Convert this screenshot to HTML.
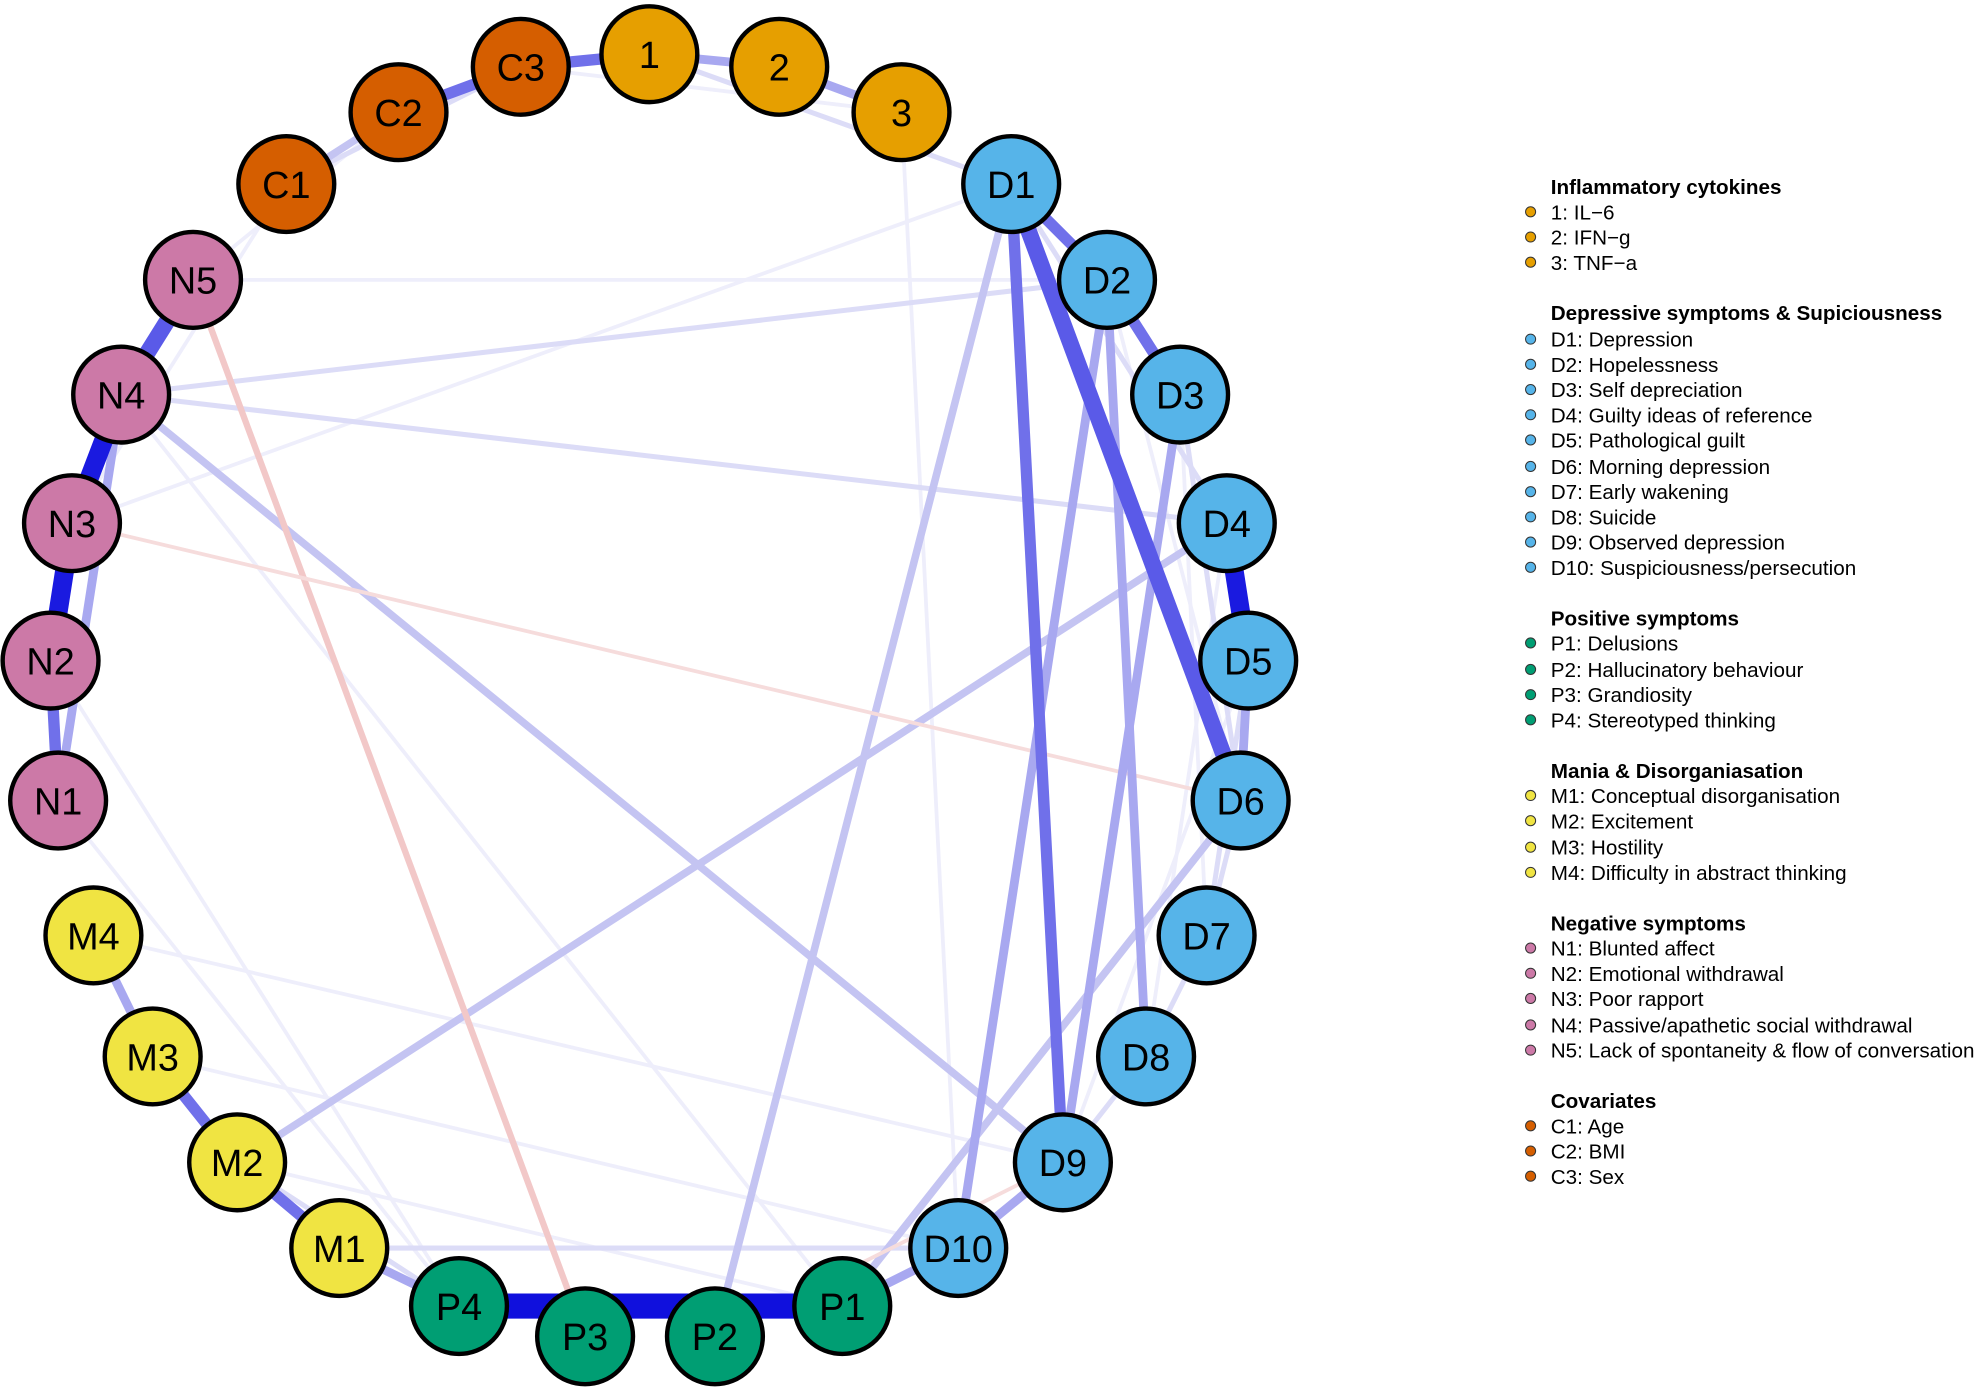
<!DOCTYPE html>
<html><head><meta charset="utf-8"><style>html,body{margin:0;padding:0;background:#fff}svg{display:block}</style></head><body>
<svg width="1977" height="1388" viewBox="0 0 1568 1101" xmlns="http://www.w3.org/2000/svg" font-family="Liberation Sans, sans-serif">
<g stroke-linecap="round" fill="none">
<g stroke="#eeeefb" stroke-width="3">
<line x1="413" y1="53" x2="715" y2="89"/><line x1="316" y1="89" x2="153" y2="222"/>
<line x1="227" y1="146" x2="57" y2="415"/><line x1="715" y1="89" x2="760" y2="990"/>
<line x1="96" y1="313" x2="668" y2="1036"/><line x1="57" y1="415" x2="802" y2="146"/>
<line x1="46" y1="635" x2="364" y2="1036"/><line x1="74" y1="742" x2="843" y2="922"/>
<line x1="188" y1="922" x2="668" y2="1036"/><line x1="121" y1="838" x2="760" y2="990"/>
<line x1="40" y1="524" x2="364" y2="1036"/><line x1="153" y1="222" x2="878" y2="222"/>
<line x1="878" y1="222" x2="984" y2="635"/><line x1="936" y1="313" x2="957" y2="742"/>
<line x1="973" y1="415" x2="909" y2="838"/><line x1="990" y1="524" x2="843" y2="922"/>
</g>
<g stroke="#dcdcf7" stroke-width="4">
<line x1="515" y1="43" x2="802" y2="146"/><line x1="413" y1="53" x2="227" y2="146"/>
<line x1="96" y1="313" x2="973" y2="415"/><line x1="96" y1="313" x2="878" y2="222"/>
<line x1="269" y1="990" x2="760" y2="990"/><line x1="188" y1="922" x2="364" y2="1036"/>
<line x1="984" y1="635" x2="957" y2="742"/><line x1="957" y1="742" x2="909" y2="838"/>
<line x1="909" y1="838" x2="843" y2="922"/><line x1="802" y1="146" x2="973" y2="415"/>
<line x1="936" y1="313" x2="984" y2="635"/><line x1="990" y1="524" x2="957" y2="742"/>
</g>
<g stroke="#c4c4f2" stroke-width="6">
<line x1="188" y1="922" x2="973" y2="415"/><line x1="567" y1="1060" x2="802" y2="146"/>
<line x1="668" y1="1036" x2="984" y2="635"/><line x1="96" y1="313" x2="843" y2="922"/>
<line x1="316" y1="89" x2="227" y2="146"/>
</g>
<g stroke="#f2c8c8" stroke-width="5"><line x1="153" y1="222" x2="464" y2="1060"/></g>
<g stroke="#f6dcdc" stroke-width="3"><line x1="57" y1="415" x2="984" y2="635"/><line x1="567" y1="1060" x2="843" y2="922"/></g>
<g stroke="#a8a8f0" stroke-width="7">
<line x1="878" y1="222" x2="909" y2="838"/><line x1="936" y1="313" x2="843" y2="922"/>
<line x1="878" y1="222" x2="760" y2="990"/><line x1="96" y1="313" x2="46" y2="635"/>
<line x1="618" y1="53" x2="715" y2="89"/><line x1="515" y1="43" x2="618" y2="53"/>
<line x1="74" y1="742" x2="121" y2="838"/><line x1="269" y1="990" x2="364" y2="1036"/>
<line x1="668" y1="1036" x2="760" y2="990"/><line x1="760" y1="990" x2="843" y2="922"/>
<line x1="990" y1="524" x2="984" y2="635"/>
</g>
<g stroke="#7070ea" stroke-width="9">
<line x1="802" y1="146" x2="878" y2="222"/><line x1="878" y1="222" x2="936" y2="313"/>
<line x1="121" y1="838" x2="188" y2="922"/><line x1="188" y1="922" x2="269" y2="990"/>
<line x1="316" y1="89" x2="413" y2="53"/><line x1="413" y1="53" x2="515" y2="43"/>
<line x1="40" y1="524" x2="46" y2="635"/><line x1="802" y1="146" x2="843" y2="922"/>
</g>
<g stroke="#5a5ae8" stroke-width="13">
<line x1="802" y1="146" x2="984" y2="635"/><line x1="153" y1="222" x2="96" y2="313"/>
</g>
<g stroke="#1a1ae0" stroke-width="15">
<line x1="96" y1="313" x2="57" y2="415"/><line x1="57" y1="415" x2="40" y2="524"/>
<line x1="973" y1="415" x2="990" y2="524"/>
</g>
<g stroke="#1010dd" stroke-width="20">
<line x1="364" y1="1036" x2="668" y2="1036"/>
</g>
</g>
<g stroke="#000" stroke-width="3.5">
<g fill="#E69F00"><circle cx="515" cy="43" r="38"/><circle cx="618" cy="53" r="38"/><circle cx="715" cy="89" r="38"/></g>
<g fill="#D55E00"><circle cx="413" cy="53" r="38"/><circle cx="316" cy="89" r="38"/><circle cx="227" cy="146" r="38"/></g>
<g fill="#56B4E9"><circle cx="802" cy="146" r="38"/><circle cx="878" cy="222" r="38"/><circle cx="936" cy="313" r="38"/><circle cx="973" cy="415" r="38"/><circle cx="990" cy="524" r="38"/><circle cx="984" cy="635" r="38"/><circle cx="957" cy="742" r="38"/><circle cx="909" cy="838" r="38"/><circle cx="843" cy="922" r="38"/><circle cx="760" cy="990" r="38"/></g>
<g fill="#009E73"><circle cx="668" cy="1036" r="38"/><circle cx="567" cy="1060" r="38"/><circle cx="464" cy="1060" r="38"/><circle cx="364" cy="1036" r="38"/></g>
<g fill="#F0E442"><circle cx="269" cy="990" r="38"/><circle cx="188" cy="922" r="38"/><circle cx="121" cy="838" r="38"/><circle cx="74" cy="742" r="38"/></g>
<g fill="#CC79A7"><circle cx="46" cy="635" r="38"/><circle cx="40" cy="524" r="38"/><circle cx="57" cy="415" r="38"/><circle cx="96" cy="313" r="38"/><circle cx="153" cy="222" r="38"/></g>
</g>
<g font-size="30" text-anchor="middle" fill="#000">
<text x="515" y="54">1</text><text x="618" y="64">2</text><text x="715" y="100">3</text>
<text x="413" y="64">C3</text><text x="316" y="100">C2</text><text x="227" y="157">C1</text>
<text x="802" y="157">D1</text><text x="878" y="233">D2</text><text x="936" y="324">D3</text><text x="973" y="426">D4</text><text x="990" y="535">D5</text><text x="984" y="646">D6</text><text x="957" y="753">D7</text><text x="909" y="849">D8</text><text x="843" y="933">D9</text><text x="760" y="1001">D10</text>
<text x="668" y="1047">P1</text><text x="567" y="1071">P2</text><text x="464" y="1071">P3</text><text x="364" y="1047">P4</text>
<text x="269" y="1001">M1</text><text x="188" y="933">M2</text><text x="121" y="849">M3</text><text x="74" y="753">M4</text>
<text x="46" y="646">N1</text><text x="40" y="535">N2</text><text x="57" y="426">N3</text><text x="96" y="324">N4</text><text x="153" y="233">N5</text>
</g>
<g font-size="16.4" fill="#000">
<g font-weight="bold"><text x="1230" y="154">Inflammatory cytokines</text><text x="1230" y="254">Depressive symptoms &amp; Supiciousness</text><text x="1230" y="496">Positive symptoms</text><text x="1230" y="617">Mania &amp; Disorganiasation</text><text x="1230" y="738">Negative symptoms</text><text x="1230" y="879">Covariates</text></g>
<text x="1230" y="174">1: IL−6</text><text x="1230" y="194">2: IFN−g</text><text x="1230" y="214">3: TNF−a</text>
<text x="1230" y="275">D1: Depression</text><text x="1230" y="295">D2: Hopelessness</text><text x="1230" y="315">D3: Self depreciation</text><text x="1230" y="335">D4: Guilty ideas of reference</text><text x="1230" y="355">D5: Pathological guilt</text><text x="1230" y="376">D6: Morning depression</text><text x="1230" y="396">D7: Early wakening</text><text x="1230" y="416">D8: Suicide</text><text x="1230" y="436">D9: Observed depression</text><text x="1230" y="456">D10: Suspiciousness/persecution</text>
<text x="1230" y="516">P1: Delusions</text><text x="1230" y="537">P2: Hallucinatory behaviour</text><text x="1230" y="557">P3: Grandiosity</text><text x="1230" y="577">P4: Stereotyped thinking</text>
<text x="1230" y="637">M1: Conceptual disorganisation</text><text x="1230" y="657">M2: Excitement</text><text x="1230" y="678">M3: Hostility</text><text x="1230" y="698">M4: Difficulty in abstract thinking</text>
<text x="1230" y="758">N1: Blunted affect</text><text x="1230" y="778">N2: Emotional withdrawal</text><text x="1230" y="798">N3: Poor rapport</text><text x="1230" y="819">N4: Passive/apathetic social withdrawal</text><text x="1230" y="839">N5: Lack of spontaneity &amp; flow of conversation</text>
<text x="1230" y="899">C1: Age</text><text x="1230" y="919">C2: BMI</text><text x="1230" y="939">C3: Sex</text>
</g>
<g stroke="#333" stroke-width="0.8">
<g fill="#E69F00"><circle cx="1214" cy="168" r="4"/><circle cx="1214" cy="188" r="4"/><circle cx="1214" cy="208" r="4"/></g>
<g fill="#56B4E9"><circle cx="1214" cy="269" r="4"/><circle cx="1214" cy="289" r="4"/><circle cx="1214" cy="309" r="4"/><circle cx="1214" cy="329" r="4"/><circle cx="1214" cy="349" r="4"/><circle cx="1214" cy="370" r="4"/><circle cx="1214" cy="390" r="4"/><circle cx="1214" cy="410" r="4"/><circle cx="1214" cy="430" r="4"/><circle cx="1214" cy="450" r="4"/></g>
<g fill="#009E73"><circle cx="1214" cy="510" r="4"/><circle cx="1214" cy="531" r="4"/><circle cx="1214" cy="551" r="4"/><circle cx="1214" cy="571" r="4"/></g>
<g fill="#F0E442"><circle cx="1214" cy="631" r="4"/><circle cx="1214" cy="651" r="4"/><circle cx="1214" cy="672" r="4"/><circle cx="1214" cy="692" r="4"/></g>
<g fill="#CC79A7"><circle cx="1214" cy="752" r="4"/><circle cx="1214" cy="772" r="4"/><circle cx="1214" cy="792" r="4"/><circle cx="1214" cy="813" r="4"/><circle cx="1214" cy="833" r="4"/></g>
<g fill="#D55E00"><circle cx="1214" cy="893" r="4"/><circle cx="1214" cy="913" r="4"/><circle cx="1214" cy="933" r="4"/></g>
</g>
</svg>
</body></html>
